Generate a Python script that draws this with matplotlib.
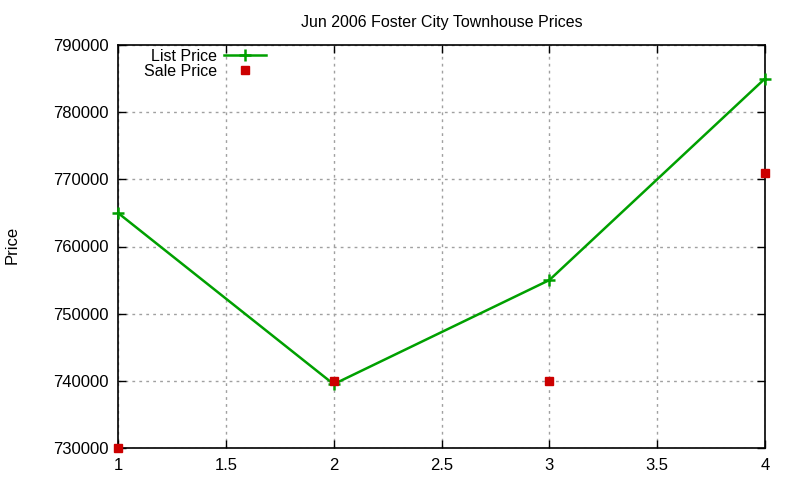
import matplotlib
matplotlib.use("Agg")
import matplotlib.pyplot as plt

plt.rcParams['font.family'] = ['Liberation Sans', 'DejaVu Sans']
plt.rcParams['font.size'] = 11.5

x_vals = [1, 2, 3, 4]
list_price = [765000, 739500, 755000, 785000]
sale_price = [730000, 740000, 740000, 771000]

fig = plt.figure(figsize=(8, 4.8), dpi=100)
ax = fig.add_axes([118 / 800, 32 / 480, (765 - 118) / 800, (448 - 45) / 480])

ax.plot(x_vals, list_price, color='#00a000', lw=1.8, marker='+', ms=9, mew=1.8,
        label='List Price', clip_on=False, zorder=4)
ax.plot(x_vals, sale_price, ls='none', color='#cc0000', marker='s', ms=6,
        label='Sale Price', clip_on=False, zorder=5)

ax.set_xlim(1, 4)
ax.set_ylim(730000, 790000)
ax.set_xticks([1, 1.5, 2, 2.5, 3, 3.5, 4])
ax.set_xticklabels(['1', '1.5', '2', '2.5', '3', '3.5', '4'])
ax.set_yticks(range(730000, 790001, 10000))
ax.tick_params(direction='in', top=True, right=True, length=6, width=1, pad=7,
               labelsize=12)
ax.grid(True, color='#a0a0a0', ls=(0, (2, 3)), lw=1)
for s in ax.spines.values():
    s.set_linewidth(1.2)

ax.set_title('Jun 2006 Foster City Townhouse Prices', fontsize=11.5, pad=13)
fig.text(12 / 800, 1 - 245 / 480, 'Price', rotation=90, ha='center', va='center',
         fontsize=12)

leg = ax.legend(loc='upper left', bbox_to_anchor=(0.03, 1.007), markerfirst=False,
                frameon=False, handlelength=2.6, borderaxespad=0, labelspacing=0.0,
                handletextpad=0.45)
for t in leg.get_texts():
    t.set_ha('right')

fig.savefig('out.png', dpi=100)
